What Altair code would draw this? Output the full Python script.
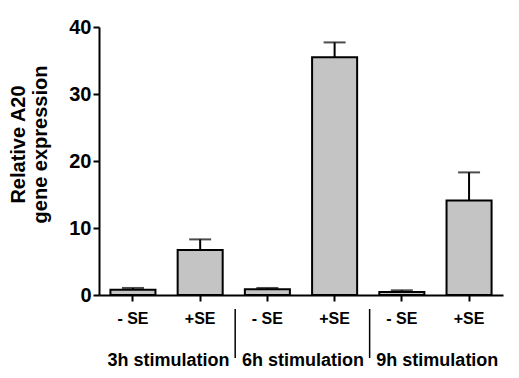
import altair as alt
import pandas as pd

groups = ["3h", "3h", "6h", "6h", "9h", "9h"]
conditions = ["- SE", "+SE", "- SE", "+SE", "- SE", "+SE"]
values = [0.8, 6.7, 0.85, 35.5, 0.45, 14.1]
errors = [0.25, 1.6, 0.2, 2.2, 0.25, 4.2]
group_labels = ["3h stimulation", "6h stimulation", "9h stimulation"]

keys = [f"{g}|{c}" for g, c in zip(groups, conditions)]
df = pd.DataFrame({"key": keys, "value": values,
                   "top": [v + e for v, e in zip(values, errors)]})
lab_df = pd.DataFrame({"key": [k for k in keys if k.endswith("- SE")], "label": group_labels})
sep_df = pd.DataFrame({"key": [k for k in keys if k.endswith("+SE")][:2]})

FONT = "Liberation Sans"
xscale = alt.Scale(domain=keys, paddingInner=0.33, paddingOuter=0.17)
yscale = alt.Scale(domain=[0, 40])

xenc = alt.X("key:N", scale=xscale, sort=keys,
             axis=alt.Axis(title=None, labelExpr="split(datum.label, '|')[1]",
                           labelAngle=0, labelFont=FONT, labelFontWeight="bold",
                           labelFontSize=16, labelColor="black", labelPadding=9,
                           domainColor="black", domainWidth=2, tickColor="black",
                           tickWidth=2, tickSize=6))

bars = alt.Chart(df).mark_bar(color="#c4c4c4", stroke="black", strokeWidth=2).encode(
    x=xenc,
    y=alt.Y("value:Q", scale=yscale,
            axis=alt.Axis(title=["Relative A20", "gene expression"], values=[0, 10, 20, 30, 40],
                          grid=False, labelFont=FONT, labelFontWeight="bold", labelFontSize=20,
                          labelColor="black", labelPadding=2, domainColor="black", domainWidth=2,
                          tickColor="black", tickWidth=2, tickSize=6, titleFont=FONT,
                          titleFontWeight="bold", titleFontSize=20, titleColor="black",
                          titleAngle=-90, titleAlign="center", titleBaseline="alphabetic",
                          titleX=-75, titleY=117, titleLineHeight=22)),
)

err = alt.Chart(df).mark_rule(color="black", strokeWidth=2).encode(
    x=alt.X("key:N", scale=xscale, sort=keys),
    y=alt.Y("value:Q", scale=yscale),
    y2="top:Q",
)
cap = alt.Chart(df).mark_tick(color="black", thickness=2, size=22).encode(
    x=alt.X("key:N", scale=xscale, sort=keys),
    y=alt.Y("top:Q", scale=yscale),
)
seps = alt.Chart(sep_df).mark_rule(color="black", strokeWidth=1.5, xOffset=12.5).encode(
    x=alt.X("key:N", scale=xscale, sort=keys, bandPosition=1),
    y=alt.value(282),
    y2=alt.value(331),
)
glabels = alt.Chart(lab_df).mark_text(font=FONT, fontWeight="bold", fontSize=18, dx=13,
                                      color="black", baseline="alphabetic", align="center").encode(
    x=alt.X("key:N", scale=xscale, sort=keys, bandPosition=1),
    y=alt.value(339),
    text="label:N",
)

chart = alt.layer(bars, err, cap, seps, glabels).properties(
    width=404, height=268,
    autosize=alt.AutoSizeParams(type="none"),
    padding={"left": 91, "top": 19, "right": 8, "bottom": 75},
).configure_view(stroke=None)

chart.save("out.html", embed_options={"renderer": "svg", "actions": False})
